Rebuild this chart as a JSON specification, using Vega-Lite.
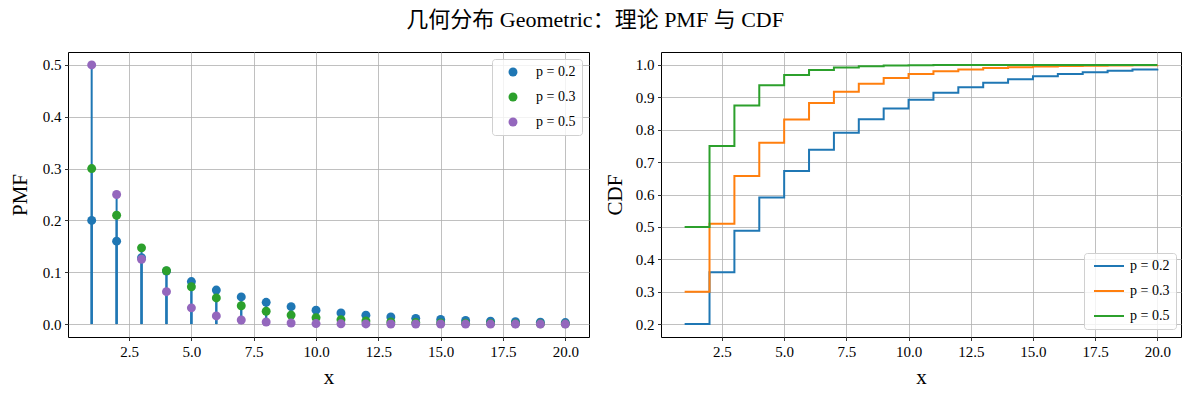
{
  "$schema": "https://vega.github.io/schema/vega-lite/v6.json",
  "autosize": {"type": "pad"},
  "padding": {"left": 8, "top": 8, "right": 0, "bottom": 0},
  "background": "white",
  "title": {
    "text": "几何分布 Geometric：理论 PMF 与 CDF",
    "font": "Liberation Serif, Noto Sans CJK SC",
    "fontSize": 22,
    "fontWeight": "normal",
    "color": "black",
    "anchor": "middle",
    "dx": 0,
    "offset": 20
  },
  "config": {
    "font": "Liberation Serif",
    "view": {"stroke": "black", "strokeWidth": 1},
    "axis": {
      "domain": false,
      "grid": true,
      "gridColor": "#b0b0b0",
      "gridWidth": 0.8,
      "gridOpacity": 1,
      "ticks": true,
      "tickColor": "black",
      "tickSize": 3.5,
      "tickWidth": 0.8,
      "labelFont": "Liberation Serif",
      "labelFontSize": 15,
      "labelColor": "black",
      "labelPadding": 3.5,
      "titleFont": "Liberation Serif",
      "titleFontSize": 21,
      "titleFontWeight": "normal",
      "titleColor": "black"
    },
    "legend": {
      "orient": "none",
      "title": null,
      "strokeColor": "#d0d0d0",
      "fillColor": "rgba(255,255,255,0.8)",
      "cornerRadius": 3,
      "padding": 6,
      "labelFont": "Liberation Serif",
      "labelFontSize": 14,
      "labelColor": "black"
    }
  },
  "datasets": {
    "geo": [
      {"x": 1, "series": "p = 0.2", "pmf": 0.2, "cdf": 0.2},
      {"x": 2, "series": "p = 0.2", "pmf": 0.16, "cdf": 0.36},
      {"x": 3, "series": "p = 0.2", "pmf": 0.128, "cdf": 0.488},
      {"x": 4, "series": "p = 0.2", "pmf": 0.1024, "cdf": 0.5904},
      {"x": 5, "series": "p = 0.2", "pmf": 0.08192, "cdf": 0.67232},
      {"x": 6, "series": "p = 0.2", "pmf": 0.065536, "cdf": 0.737856},
      {"x": 7, "series": "p = 0.2", "pmf": 0.0524288, "cdf": 0.7902848},
      {"x": 8, "series": "p = 0.2", "pmf": 0.041943, "cdf": 0.832228},
      {"x": 9, "series": "p = 0.2", "pmf": 0.033554, "cdf": 0.865782},
      {"x": 10, "series": "p = 0.2", "pmf": 0.026844, "cdf": 0.892626},
      {"x": 11, "series": "p = 0.2", "pmf": 0.021475, "cdf": 0.914101},
      {"x": 12, "series": "p = 0.2", "pmf": 0.01718, "cdf": 0.931281},
      {"x": 13, "series": "p = 0.2", "pmf": 0.013744, "cdf": 0.945024},
      {"x": 14, "series": "p = 0.2", "pmf": 0.010995, "cdf": 0.95602},
      {"x": 15, "series": "p = 0.2", "pmf": 0.008796, "cdf": 0.964816},
      {"x": 16, "series": "p = 0.2", "pmf": 0.007037, "cdf": 0.971853},
      {"x": 17, "series": "p = 0.2", "pmf": 0.00563, "cdf": 0.977482},
      {"x": 18, "series": "p = 0.2", "pmf": 0.004504, "cdf": 0.981986},
      {"x": 19, "series": "p = 0.2", "pmf": 0.003603, "cdf": 0.985588},
      {"x": 20, "series": "p = 0.2", "pmf": 0.002882, "cdf": 0.988471},
      {"x": 1, "series": "p = 0.3", "pmf": 0.3, "cdf": 0.3},
      {"x": 2, "series": "p = 0.3", "pmf": 0.21, "cdf": 0.51},
      {"x": 3, "series": "p = 0.3", "pmf": 0.147, "cdf": 0.657},
      {"x": 4, "series": "p = 0.3", "pmf": 0.1029, "cdf": 0.7599},
      {"x": 5, "series": "p = 0.3", "pmf": 0.07203, "cdf": 0.83193},
      {"x": 6, "series": "p = 0.3", "pmf": 0.050421, "cdf": 0.882351},
      {"x": 7, "series": "p = 0.3", "pmf": 0.035295, "cdf": 0.917646},
      {"x": 8, "series": "p = 0.3", "pmf": 0.024706, "cdf": 0.942352},
      {"x": 9, "series": "p = 0.3", "pmf": 0.017294, "cdf": 0.959646},
      {"x": 10, "series": "p = 0.3", "pmf": 0.012106, "cdf": 0.971752},
      {"x": 11, "series": "p = 0.3", "pmf": 0.008474, "cdf": 0.980227},
      {"x": 12, "series": "p = 0.3", "pmf": 0.005932, "cdf": 0.986159},
      {"x": 13, "series": "p = 0.3", "pmf": 0.004152, "cdf": 0.990311},
      {"x": 14, "series": "p = 0.3", "pmf": 0.002907, "cdf": 0.993218},
      {"x": 15, "series": "p = 0.3", "pmf": 0.002035, "cdf": 0.995252},
      {"x": 16, "series": "p = 0.3", "pmf": 0.001424, "cdf": 0.996677},
      {"x": 17, "series": "p = 0.3", "pmf": 0.000997, "cdf": 0.997674},
      {"x": 18, "series": "p = 0.3", "pmf": 0.000698, "cdf": 0.998372},
      {"x": 19, "series": "p = 0.3", "pmf": 0.000489, "cdf": 0.99886},
      {"x": 20, "series": "p = 0.3", "pmf": 0.000342, "cdf": 0.999202},
      {"x": 1, "series": "p = 0.5", "pmf": 0.5, "cdf": 0.5},
      {"x": 2, "series": "p = 0.5", "pmf": 0.25, "cdf": 0.75},
      {"x": 3, "series": "p = 0.5", "pmf": 0.125, "cdf": 0.875},
      {"x": 4, "series": "p = 0.5", "pmf": 0.0625, "cdf": 0.9375},
      {"x": 5, "series": "p = 0.5", "pmf": 0.03125, "cdf": 0.96875},
      {"x": 6, "series": "p = 0.5", "pmf": 0.015625, "cdf": 0.984375},
      {"x": 7, "series": "p = 0.5", "pmf": 0.0078125, "cdf": 0.9921875},
      {"x": 8, "series": "p = 0.5", "pmf": 0.003906, "cdf": 0.996094},
      {"x": 9, "series": "p = 0.5", "pmf": 0.001953, "cdf": 0.998047},
      {"x": 10, "series": "p = 0.5", "pmf": 0.000977, "cdf": 0.999023},
      {"x": 11, "series": "p = 0.5", "pmf": 0.000488, "cdf": 0.999512},
      {"x": 12, "series": "p = 0.5", "pmf": 0.000244, "cdf": 0.999756},
      {"x": 13, "series": "p = 0.5", "pmf": 0.000122, "cdf": 0.999878},
      {"x": 14, "series": "p = 0.5", "pmf": 0.000061, "cdf": 0.999939},
      {"x": 15, "series": "p = 0.5", "pmf": 0.000031, "cdf": 0.999969},
      {"x": 16, "series": "p = 0.5", "pmf": 0.000015, "cdf": 0.999985},
      {"x": 17, "series": "p = 0.5", "pmf": 0.000008, "cdf": 0.999992},
      {"x": 18, "series": "p = 0.5", "pmf": 0.000004, "cdf": 0.999996},
      {"x": 19, "series": "p = 0.5", "pmf": 0.000002, "cdf": 0.999998},
      {"x": 20, "series": "p = 0.5", "pmf": 0.000001, "cdf": 0.999999}
    ]
  },
  "data": {"name": "geo"},
  "bounds": "flush",
  "spacing": 72,
  "resolve": {"scale": {"color": "independent"}, "legend": {"color": "independent"}},
  "hconcat": [
    {
      "width": 521,
      "height": 285,
      "layer": [
        {
          "mark": {"type": "rule", "color": "#1f77b4", "strokeWidth": 2},
          "encoding": {
            "x": {"field": "x", "type": "quantitative",
                  "scale": {"domain": [0.05, 20.95], "nice": false, "zero": false},
                  "axis": {"values": [2.5, 5, 7.5, 10, 12.5, 15, 17.5, 20], "format": ".1f", "title": "x", "titlePadding": 7}},
            "y": {"field": "pmf", "type": "quantitative",
                  "scale": {"domain": [-0.025, 0.525], "nice": false, "zero": false},
                  "axis": {"values": [0, 0.1, 0.2, 0.3, 0.4, 0.5], "format": ".1f", "title": "PMF", "titlePadding": 12}},
            "y2": {"datum": 0}
          }
        },
        {
          "mark": {"type": "circle", "size": 80, "opacity": 1},
          "encoding": {
            "x": {"field": "x", "type": "quantitative"},
            "y": {"field": "pmf", "type": "quantitative"},
            "color": {"field": "series", "type": "nominal",
                      "scale": {"domain": ["p = 0.2", "p = 0.3", "p = 0.5"], "range": ["#1f77b4", "#2ca02c", "#9467bd"]},
                      "legend": {"legendX": 424, "legendY": 7, "symbolType": "circle", "symbolSize": 80, "symbolOpacity": 1,
                                 "rowPadding": 11, "symbolOffset": 8, "labelOffset": 16}}
          }
        }
      ]
    },
    {
      "width": 520,
      "height": 285,
      "mark": {"type": "line", "interpolate": "step-after", "strokeWidth": 2},
      "encoding": {
        "x": {"field": "x", "type": "quantitative",
              "scale": {"domain": [0.05, 20.95], "nice": false, "zero": false},
              "axis": {"values": [2.5, 5, 7.5, 10, 12.5, 15, 17.5, 20], "format": ".1f", "title": "x", "titlePadding": 7}},
        "y": {"field": "cdf", "type": "quantitative",
              "scale": {"domain": [0.16, 1.04], "nice": false, "zero": false},
              "axis": {"values": [0.2, 0.3, 0.4, 0.5, 0.6, 0.7, 0.8, 0.9, 1.0], "format": ".1f", "title": "CDF", "titlePadding": 10}},
        "color": {"field": "series", "type": "nominal",
                  "scale": {"domain": ["p = 0.2", "p = 0.3", "p = 0.5"], "range": ["#1f77b4", "#ff7f0e", "#2ca02c"]},
                  "legend": {"legendX": 423, "legendY": 201, "symbolType": "M-3,0H3", "symbolSize": 100, "symbolStrokeWidth": 2,
                             "rowPadding": 11, "symbolOffset": 12, "labelOffset": 14}}
      }
    }
  ]
}
